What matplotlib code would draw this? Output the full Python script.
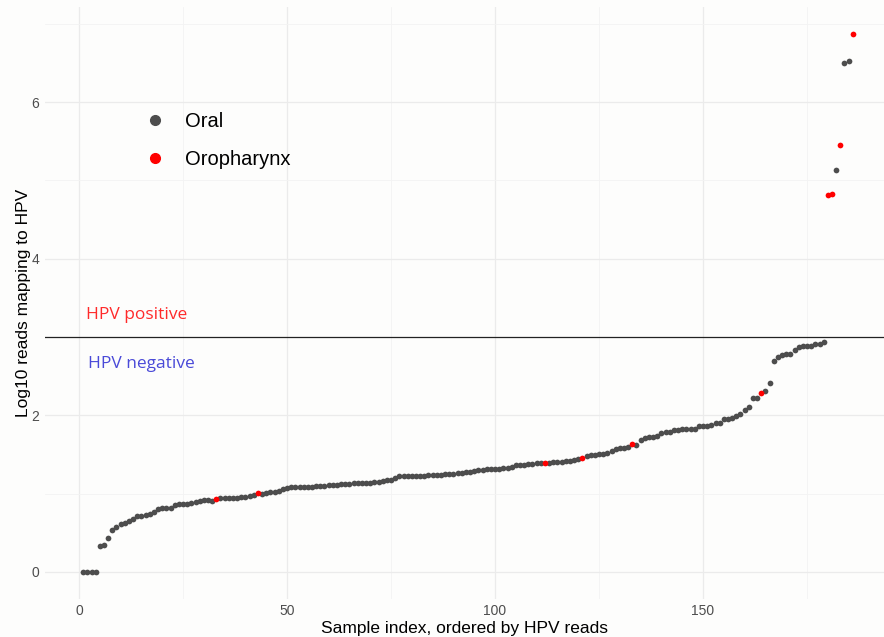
import matplotlib
matplotlib.use("Agg")
import matplotlib.pyplot as plt
from matplotlib.lines import Line2D
import numpy as np

# log10 HPV reads per sample, sorted ascending (sample index 1..186)
LOG_READS = [
    0.00, 0.00, 0.00, 0.00, 0.33, 0.34, 0.44, 0.53, 0.57, 0.61,
    0.62, 0.65, 0.68, 0.71, 0.71, 0.73, 0.74, 0.77, 0.81, 0.82,
    0.82, 0.82, 0.85, 0.87, 0.87, 0.87, 0.88, 0.89, 0.91, 0.92,
    0.92, 0.91, 0.93, 0.94, 0.94, 0.94, 0.94, 0.94, 0.96, 0.96,
    0.97, 0.98, 1.01, 1.00, 1.01, 1.02, 1.02, 1.03, 1.06, 1.07,
    1.08, 1.08, 1.08, 1.09, 1.09, 1.09, 1.10, 1.10, 1.10, 1.11,
    1.11, 1.11, 1.12, 1.12, 1.12, 1.13, 1.13, 1.14, 1.14, 1.14,
    1.15, 1.15, 1.16, 1.17, 1.18, 1.20, 1.22, 1.23, 1.23, 1.23,
    1.23, 1.23, 1.23, 1.24, 1.24, 1.24, 1.24, 1.25, 1.25, 1.25,
    1.26, 1.27, 1.28, 1.28, 1.29, 1.30, 1.30, 1.31, 1.31, 1.32,
    1.32, 1.33, 1.33, 1.34, 1.36, 1.37, 1.37, 1.38, 1.38, 1.39,
    1.39, 1.39, 1.39, 1.40, 1.41, 1.41, 1.42, 1.42, 1.43, 1.44,
    1.45, 1.48, 1.49, 1.50, 1.51, 1.51, 1.52, 1.54, 1.57, 1.58,
    1.58, 1.59, 1.63, 1.62, 1.68, 1.71, 1.72, 1.73, 1.74, 1.77,
    1.79, 1.79, 1.81, 1.81, 1.82, 1.83, 1.83, 1.83, 1.86, 1.86,
    1.86, 1.88, 1.90, 1.90, 1.96, 1.96, 1.97, 1.99, 2.02, 2.07,
    2.11, 2.22, 2.22, 2.29, 2.31, 2.41, 2.70, 2.75, 2.77, 2.78,
    2.79, 2.83, 2.87, 2.88, 2.89, 2.89, 2.91, 2.91, 2.94, 4.81,
    4.83, 5.13, 5.45, 6.50, 6.52, 6.87,
]
# sample indices that are oropharynx; all others are oral
OROPHARYNX_IDX = [33, 43, 112, 121, 133, 164, 180, 181, 183, 186]

THRESHOLD = 3
COLORS = {"Oral": "#4d4d4d", "Oropharynx": "#ff0000"}

idx = np.arange(1, len(LOG_READS) + 1)
vals = np.array(LOG_READS)
is_oro = np.isin(idx, OROPHARYNX_IDX)

plt.rcParams["font.family"] = ["Liberation Sans", "DejaVu Sans"]
bg = "#fdfdfc"
fig = plt.figure(figsize=(8.84, 6.37), dpi=100, facecolor=bg)
ax = fig.add_axes([0.0506, 0.0603, 0.9494, 0.928], facecolor=bg)

ax.scatter(idx[~is_oro], vals[~is_oro], s=17, color=COLORS["Oral"],
           linewidths=0, zorder=3)
ax.scatter(idx[is_oro], vals[is_oro], s=17, color=COLORS["Oropharynx"],
           linewidths=0, zorder=4)

ax.axhline(THRESHOLD, color="#222222", lw=0.9, zorder=2)
ax.text(1.7, 3.28, "HPV positive", color="#ff2a2a", fontsize=12.5,
        family="Open Sans", va="center", ha="left")
ax.text(2.2, 2.66, "HPV negative", color="#4a4ad8", fontsize=12.5,
        family="Open Sans", va="center", ha="left")

ax.set_xlim(-8.25, 193.5)
ax.set_ylim(-0.34, 7.21)
ax.set_xticks([0, 50, 100, 150])
ax.set_xticks([25, 75, 125, 175], minor=True)
ax.set_yticks([0, 2, 4, 6])
ax.set_yticks([1, 3, 5, 7], minor=True)
ax.grid(which="major", color="#ebebeb", lw=0.9)
ax.grid(which="minor", color="#f3f3f3", lw=0.6)
ax.set_axisbelow(True)
for s in ax.spines.values():
    s.set_visible(False)
ax.tick_params(which="both", length=0, labelsize=10, labelcolor="#4d4d4d", pad=4)

ax.set_xlabel("Sample index, ordered by HPV reads", fontsize=12.5, labelpad=2)
ax.set_ylabel("Log10 reads mapping to HPV", fontsize=12.5, labelpad=0)

handles = [Line2D([], [], marker="o", ls="", color=COLORS[k], markersize=7,
                  label=k) for k in ["Oral", "Oropharynx"]]
ax.legend(handles=handles, loc="upper left", bbox_to_anchor=(0.095, 0.854),
          frameon=False, fontsize=14.5, labelspacing=0.95, handletextpad=0.9,
          handlelength=1.2)

fig.savefig("out.png", dpi=100, facecolor=bg)
